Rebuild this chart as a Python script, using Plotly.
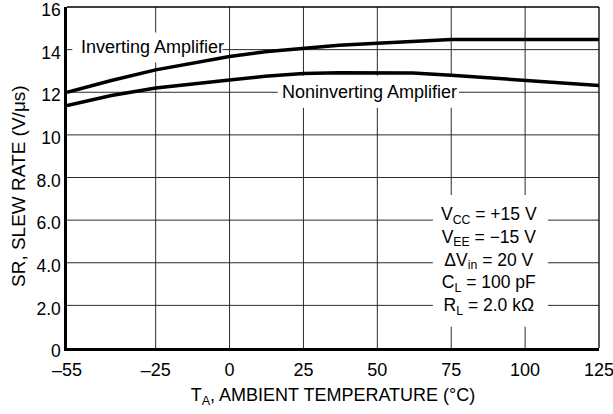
import plotly.graph_objects as go

# Slew rate versus ambient temperature
temp_inv = [-55, -40, -25, -10, 0, 12, 25, 37, 50, 62, 75, 100, 125]
sr_inv = [12.0, 12.55, 13.05, 13.45, 13.68, 13.9, 14.05, 14.2, 14.3, 14.4, 14.47, 14.47, 14.47]

temp_non = [-55, -40, -25, -10, 0, 12, 25, 37, 50, 62, 75, 100, 125]
sr_non = [11.38, 11.85, 12.2, 12.45, 12.58, 12.75, 12.88, 12.92, 12.92, 12.9, 12.8, 12.58, 12.32]

x_ticks = [-55, -25, 0, 25, 50, 75, 100, 125]
x_tick_text = ["\u201355", "\u201325", "0", "25", "50", "75", "100", "125"]
y_ticks = [0, 2, 4, 6, 8, 10, 12, 14, 16]
y_tick_text = ["0", "2.0", "4.0", "6.0", "8.0", "10", "12", "14", "16"]

conditions = [
    "V<sub>CC</sub> = +15 V",
    "V<sub>EE</sub> = \u221215 V",
    "\u0394V<sub>in</sub> = 20 V",
    "C<sub>L</sub> = 100 pF",
    "R<sub>L</sub> = 2.0 k\u03a9",
]

FONT = "Liberation Sans, Arial, Helvetica, sans-serif"
X_MIN, X_MAX = -55, 125
Y_MIN, Y_MAX = 0, 16
W, H = 613, 414
M_L, M_R, M_T, M_B = 67, 14, 7, 66

fig = go.Figure()
for xs, ys in [(temp_inv, sr_inv), (temp_non, sr_non)]:
    fig.add_trace(go.Scatter(x=xs, y=ys, mode="lines",
                             line=dict(color="black", width=3.5),
                             showlegend=False, hoverinfo="skip"))

shapes = []
# grid drawn at the tick positions
grid = dict(color="#2b2b2b", width=1)
for xv in x_ticks[1:-1]:
    shapes.append(dict(type="line", xref="x", yref="y", x0=xv, x1=xv, y0=Y_MIN, y1=Y_MAX,
                       line=grid, layer="below"))
for yv in y_ticks[1:-1]:
    shapes.append(dict(type="line", xref="x", yref="y", x0=X_MIN, x1=X_MAX, y0=yv, y1=yv,
                       line=grid, layer="below"))
# white knock-outs behind the curve labels and the test-condition block
boxes = [(-53.2, 13.4, -2.4, 14.8), (16.3, 11.27, 77.6, 12.77), (68.8, 1.0, 107.7, 7.18)]
for x0, y0, x1, y1 in boxes:
    shapes.append(dict(type="rect", xref="x", yref="y", x0=x0, y0=y0, x1=x1, y1=y1,
                       fillcolor="white", line=dict(width=0), layer="below"))
# thin top/right frame
shapes.append(dict(type="line", xref="paper", yref="paper", x0=0, x1=1, y0=1, y1=1,
                   line=dict(color="black", width=1.3), layer="above"))
shapes.append(dict(type="line", xref="paper", yref="paper", x0=1, x1=1, y0=0, y1=1,
                   line=dict(color="black", width=1.3), layer="above"))

plot_w = W - M_L - M_R
plot_h = H - M_T - M_B
annotations = [
    dict(x=-26, y=14.1, xref="x", yref="y", text="Inverting Amplifier", showarrow=False,
         font=dict(size=18, color="black", family=FONT)),
    dict(x=47.4, y=12.0, xref="x", yref="y", text="Noninverting Amplifier", showarrow=False,
         font=dict(size=18, color="black", family=FONT)),
    dict(x=-(M_L - 18) / plot_w, y=(H - M_B - 186) / plot_h, xref="paper", yref="paper",
         xanchor="center", yanchor="middle", text="SR, SLEW RATE (V/\u03bcs)",
         showarrow=False, textangle=-90, font=dict(size=19, color="black", family=FONT)),
    dict(x=87.7, y=4.1, xref="x", yref="y", text="<br>".join(conditions),
         showarrow=False, align="center", yanchor="middle",
         font=dict(size=17.5, color="black", family=FONT)),
]

fig.update_layout(
    width=W, height=H,
    margin=dict(l=M_L, r=M_R, t=M_T, b=M_B),
    paper_bgcolor="white", plot_bgcolor="white",
    font=dict(family=FONT, size=18, color="black"),
    shapes=shapes, annotations=annotations,
)
fig.update_xaxes(range=[X_MIN, X_MAX], tickvals=x_ticks, ticktext=x_tick_text,
                 showgrid=False, zeroline=False, automargin=False,
                 showline=True, linecolor="black", linewidth=2.5, ticks="",
                 tickfont=dict(size=18), ticklabeloverflow="allow", ticklabelstandoff=4,
                 title=dict(text="T<sub>A</sub>, AMBIENT TEMPERATURE (\u00b0C)",
                            font=dict(size=18), standoff=10))
fig.update_yaxes(range=[Y_MIN, Y_MAX], tickvals=y_ticks, ticktext=y_tick_text,
                 showgrid=False, zeroline=False, automargin=False,
                 showline=True, linecolor="black", linewidth=2.5, ticks="",
                 tickfont=dict(size=17.5), ticklabeloverflow="allow", ticklabelshift=3)

fig.write_html("out.html")
